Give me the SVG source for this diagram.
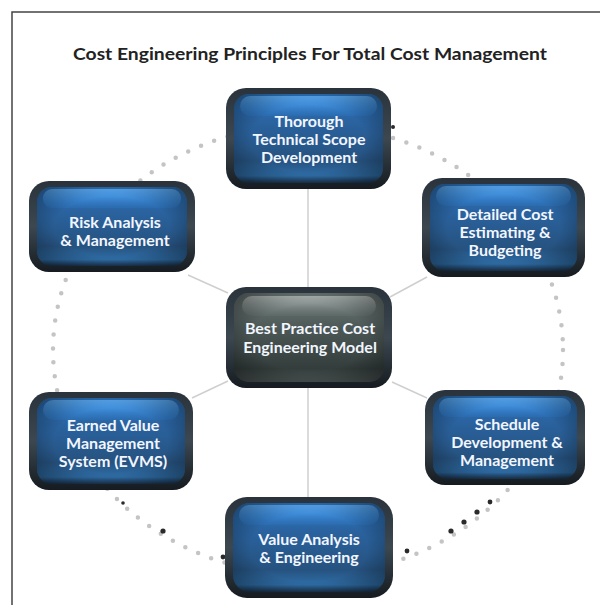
<svg xmlns="http://www.w3.org/2000/svg" width="600" height="605" viewBox="0 0 600 605">
<defs>
<linearGradient id="rim" x1="0" y1="0" x2="0" y2="1">
<stop offset="0" stop-color="#2a333b"/>
<stop offset="0.5" stop-color="#3c4750"/>
<stop offset="1" stop-color="#151b20"/>
</linearGradient>
<linearGradient id="blue" x1="0" y1="0" x2="0" y2="1">
<stop offset="0" stop-color="#2e78c4"/>
<stop offset="0.3" stop-color="#2a63a0"/>
<stop offset="0.75" stop-color="#26527f"/>
<stop offset="0.92" stop-color="#2f6ea8"/>
<stop offset="1" stop-color="#1c3550"/>
</linearGradient>
<linearGradient id="blueHi" x1="0" y1="0" x2="0" y2="1">
<stop offset="0" stop-color="#5fb2ff"/>
<stop offset="1" stop-color="#2f7fd0" stop-opacity="0.2"/>
</linearGradient>
<radialGradient id="vign" cx="0.5" cy="0.5" r="0.7">
<stop offset="0.55" stop-color="#000" stop-opacity="0"/>
<stop offset="1" stop-color="#000" stop-opacity="0.45"/>
</radialGradient>
<linearGradient id="gray" x1="0" y1="0" x2="0" y2="1">
<stop offset="0" stop-color="#6f7b79"/>
<stop offset="0.4" stop-color="#4c5856"/>
<stop offset="0.85" stop-color="#333d3c"/>
<stop offset="1" stop-color="#4d5755"/>
</linearGradient>
<linearGradient id="grayHi" x1="0" y1="0" x2="0" y2="1">
<stop offset="0" stop-color="#b4bcba"/>
<stop offset="1" stop-color="#6f7b79" stop-opacity="0.2"/>
</linearGradient>
</defs>
<style>
.rim{fill:url(#rim)}
.in{fill:url(#blue)}
.hi{fill:url(#blueHi)}
.vg{fill:url(#vign)}
.ing{fill:url(#gray)}
.hig{fill:url(#grayHi)}
.lbl{font-family:Lato,"Liberation Sans",sans-serif;font-weight:bold;font-size:16px;fill:#f2f6ff;text-anchor:middle}
.title{font-family:Lato,"Liberation Sans",sans-serif;font-weight:bold;font-size:17px;fill:#222}
.conn{stroke:#cfcfcf;stroke-width:1.5;fill:none}
.dots{stroke:#c4c4c4;stroke-width:4.5;stroke-linecap:round;stroke-dasharray:0 14;fill:none}
.bd{fill:#2a2a2a}
</style>
<rect width="600" height="605" fill="#fff"/>
<path d="M12 605 V12 H600" fill="none" stroke="#444" stroke-width="1.5"/>
<text class="title" x="310" y="60" text-anchor="middle" textLength="474" lengthAdjust="spacingAndGlyphs">Cost Engineering Principles For Total Cost Management</text>

<g id="ring">
<ellipse class="dots" cx="308" cy="350" rx="255" ry="225"/>
<circle class="bd" cx="163" cy="531" r="2.6"/>
<circle class="bd" cx="223" cy="557" r="2.4"/>
<circle class="bd" cx="123" cy="503" r="1.8"/>
<circle class="bd" cx="490" cy="502" r="2.4"/>
<circle class="bd" cx="477" cy="512" r="2.6"/>
<circle class="bd" cx="464" cy="522" r="2.6"/>
<circle class="bd" cx="451" cy="531" r="2.6"/>
<circle class="bd" cx="407" cy="551" r="2.4"/>
<circle class="bd" cx="393" cy="127" r="2"/>
</g>

<g id="connectors">
<line class="conn" x1="308" y1="189" x2="308" y2="287"/>
<line class="conn" x1="308" y1="388" x2="308" y2="497"/>
<line class="conn" x1="188" y1="275" x2="228" y2="293"/>
<line class="conn" x1="427" y1="277" x2="390" y2="297"/>
<line class="conn" x1="192" y1="398" x2="228" y2="381"/>
<line class="conn" x1="427" y1="398" x2="392" y2="382"/>
</g>

<g id="n-scope">
<rect class="rim" x="226" y="88" width="165" height="101" rx="20"/>
<rect class="in" x="234" y="94" width="149" height="89" rx="15"/>
<rect class="hi" x="240" y="96" width="137" height="20" rx="10"/>
<rect class="vg" x="234" y="94" width="149" height="89" rx="15"/>
<text class="lbl" x="309" y="127">Thorough</text>
<text class="lbl" x="309" y="145">Technical Scope</text>
<text class="lbl" x="309" y="163">Development</text>
</g>

<g id="n-risk">
<rect class="rim" x="29" y="181" width="166" height="91" rx="20"/>
<rect class="in" x="37" y="187" width="150" height="79" rx="15"/>
<rect class="hi" x="43" y="189" width="138" height="19" rx="9"/>
<rect class="vg" x="37" y="187" width="150" height="79" rx="15"/>
<text class="lbl" x="115" y="228">Risk Analysis</text>
<text class="lbl" x="115" y="246">&amp; Management</text>
</g>

<g id="n-estimate">
<rect class="rim" x="422" y="178" width="163" height="99" rx="20"/>
<rect class="in" x="430" y="184" width="147" height="87" rx="15"/>
<rect class="hi" x="436" y="186" width="135" height="20" rx="10"/>
<rect class="vg" x="430" y="184" width="147" height="87" rx="15"/>
<text class="lbl" x="505" y="220">Detailed Cost</text>
<text class="lbl" x="505" y="238">Estimating &amp;</text>
<text class="lbl" x="505" y="256">Budgeting</text>
</g>

<g id="n-center">
<rect class="rim" x="226" y="287" width="166" height="101" rx="20"/>
<rect class="ing" x="234" y="293" width="150" height="89" rx="15"/>
<rect class="hig" x="242" y="296" width="134" height="20" rx="10"/>
<rect class="vg" x="234" y="293" width="150" height="89" rx="15"/>
<text class="lbl" x="310" y="334">Best Practice Cost</text>
<text class="lbl" x="310" y="353">Engineering Model</text>
</g>

<g id="n-evms">
<rect class="rim" x="29" y="392" width="164" height="98" rx="20"/>
<rect class="in" x="37" y="398" width="148" height="86" rx="15"/>
<rect class="hi" x="43" y="400" width="136" height="20" rx="10"/>
<rect class="vg" x="37" y="398" width="148" height="86" rx="15"/>
<text class="lbl" x="113" y="431">Earned Value</text>
<text class="lbl" x="113" y="449">Management</text>
<text class="lbl" x="113" y="467">System (EVMS)</text>
</g>

<g id="n-schedule">
<rect class="rim" x="425" y="390" width="160" height="95" rx="20"/>
<rect class="in" x="433" y="396" width="144" height="83" rx="15"/>
<rect class="hi" x="439" y="398" width="132" height="19" rx="9"/>
<rect class="vg" x="433" y="396" width="144" height="83" rx="15"/>
<text class="lbl" x="507" y="430">Schedule</text>
<text class="lbl" x="507" y="448">Development &amp;</text>
<text class="lbl" x="507" y="466">Management</text>
</g>

<g id="n-value">
<rect class="rim" x="225" y="497" width="168" height="101" rx="22"/>
<rect class="in" x="233" y="503" width="152" height="89" rx="17"/>
<rect class="hi" x="239" y="505" width="140" height="20" rx="10"/>
<rect class="vg" x="233" y="503" width="152" height="89" rx="17"/>
<text class="lbl" x="309" y="545">Value Analysis</text>
<text class="lbl" x="309" y="563">&amp; Engineering</text>
</g>
</svg>
